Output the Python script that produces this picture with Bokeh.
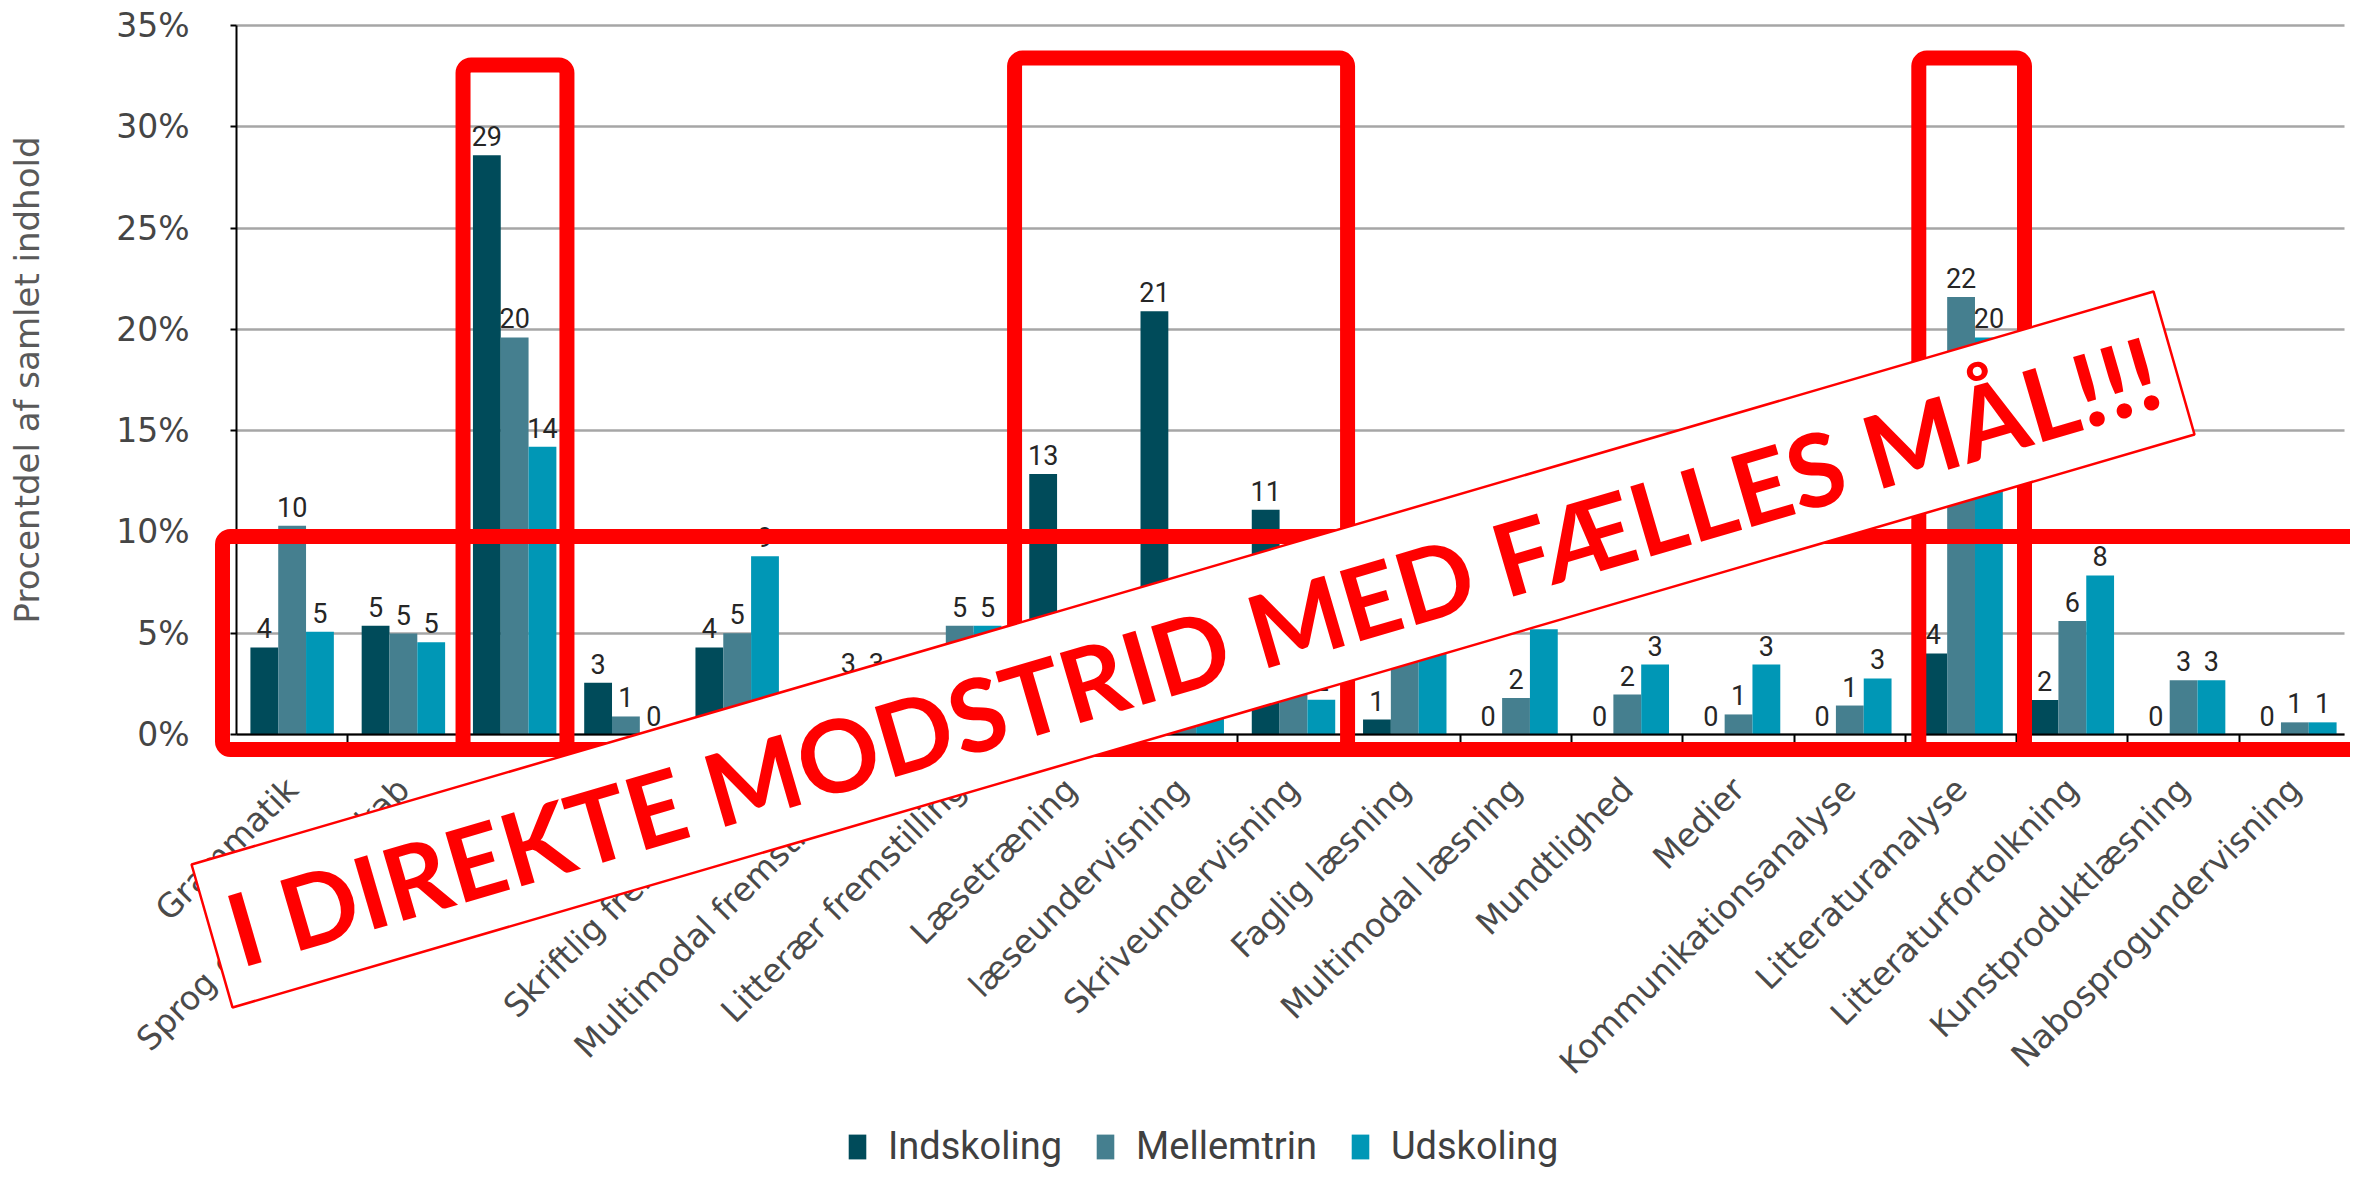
import numpy as np
from bokeh.plotting import figure
from bokeh.models import (ColumnDataSource, Range1d, BoxAnnotation, PolyAnnotation,
                          Label, Legend, LegendItem, FixedTicker, PrintfTickFormatter,
                          CustomJSTickFormatter, LinearAxis, Grid)
from bokeh.core.properties import value
from bokeh.embed import file_html
from bokeh.resources import INLINE

# ---------------- data ----------------
categories = ["Grammatik", "Sprog og ordkendskab", "Stavning", "Håndskrift",
              "Skriftlig fremstilling", "Multimodal fremstilling", "Litterær fremstilling",
              "Læsetræning", "læseundervisning", "Skriveundervisning", "Faglig læsning",
              "Multimodal læsning", "Mundtlighed", "Medier", "Kommunikationsanalyse",
              "Litteraturanalyse", "Litteraturfortolkning", "Kunstproduktlæsning",
              "Nabosprogundervisning"]
indskoling = [4.3, 5.37, 28.6, 2.55, 4.3, 0.9, 1.2, 12.86, 20.9, 11.1, 0.74,
              0.0, 0.0, 0.0, 0.0, 4.0, 1.7, 0.0, 0.0]
mellemtrin = [10.3, 4.98, 19.6, 0.89, 5.0, 2.6, 5.37, 2.2, 3.0, 2.6, 4.2,
              1.8, 1.97, 0.99, 1.43, 21.6, 5.6, 2.68, 0.6]
udskoling = [5.07, 4.55, 14.2, 0.0, 8.8, 2.6, 5.37, 1.3, 1.2, 1.72, 4.6,
             5.2, 3.45, 3.45, 2.77, 19.6, 7.85, 2.68, 0.6]
series = ["Indskoling", "Mellemtrin", "Udskoling"]
colors = ["#004B5A", "#457F8F", "#0097B6"]
y_ticks = [0, 5, 10, 15, 20, 25, 30, 35]
axis_title = "Procentdel af samlet indhold"
banner_text = "I DIREKTE MODSTRID MED FÆLLES MÅL!!!"

# ---------------- layout constants ----------------
W, H = 2350, 1173
FRAME_L, FRAME_B, FRAME_T = 236, 734, 25        # canvas px of data x=0, y=0, y=35
n = len(categories)
kx = (W - FRAME_L) / n                          # px per category
ky = (FRAME_B - FRAME_T) / 35.0                 # px per percent
x_range = Range1d(-FRAME_L / kx, n)
y_range = Range1d(-(H - FRAME_B) / ky, 35 + FRAME_T / ky)

p = figure(x_range=x_range, y_range=y_range, width=W, height=H,
           output_backend="svg", toolbar_location=None,
           x_axis_location=None, y_axis_location=None,
           min_border=0, min_border_left=0, min_border_right=0,
           min_border_top=0, min_border_bottom=0)
p.outline_line_color = None
p.background_fill_color = "white"
p.border_fill_color = "white"
p.xgrid.visible = False
p.ygrid.visible = False

centers = np.arange(n) + 0.5
data = {"c": centers}
for name, vals in zip(series, [indskoling, mellemtrin, udskoling]):
    data[name] = vals
    data[name + "_lab"] = [str(int(np.floor(v + 0.5))) for v in vals]

x_end = n - 0.05

# grid
grid = Grid(dimension=1, ticker=FixedTicker(ticks=y_ticks), grid_line_color="#A6A6A6",
            grid_line_width=2.5)
if "cross_bounds" in Grid.properties():
    grid.cross_bounds = (0, x_end)
    p.add_layout(grid)
else:
    p.segment(x0=[0] * len(y_ticks), x1=[x_end] * len(y_ticks), y0=y_ticks, y1=y_ticks,
              line_color="#A6A6A6", line_width=2.5)

offsets = [-0.25, 0.0, 0.25]
renderers = []
for name, col, off in zip(series, colors, offsets):
    s = ColumnDataSource({"x": centers + off, "top": data[name], "lab": data[name + "_lab"]})
    r = p.vbar(x="x", top="top", width=0.25, source=s, fill_color=col, line_color=None)
    renderers.append(r)
    p.text(x="x", y="top", text="lab", source=s, text_align="center",
           text_baseline="bottom", y_offset=-9, text_font=value("Roboto"),
           text_font_size="27px", text_color="#262626")

# y axis
yax = LinearAxis(fixed_location=0, bounds=(0, 35), ticker=FixedTicker(ticks=y_ticks),
                 formatter=PrintfTickFormatter(format="%d%%"))
yax.minor_tick_line_color = None
yax.major_tick_in = 0
yax.major_tick_out = 6
yax.major_tick_line_width = 2
yax.major_tick_line_color = "black"
yax.axis_line_color = "black"
yax.axis_line_width = 2
yax.major_label_text_font = "DejaVu Sans"
yax.major_label_text_font_size = "33px"
yax.major_label_text_color = "#454545"
yax.major_label_standoff = 41
yax.axis_label = axis_title
yax.axis_label_text_font = "DejaVu Sans"
yax.axis_label_text_font_size = "34px"
yax.axis_label_text_font_style = "normal"
yax.axis_label_text_color = "#595959"
yax.axis_label_standoff = 66
p.add_layout(yax, "left")

# x axis (category names at centres, small ticks at category boundaries)
xax = LinearAxis(fixed_location=0, bounds=(0, x_end),
                 ticker=FixedTicker(ticks=list(centers), minor_ticks=list(range(1, n))),
                 formatter=CustomJSTickFormatter(args=dict(cats=categories),
                                                 code="return cats[Math.floor(tick)] || ''"))
xax.major_label_orientation = np.pi / 4
xax.major_tick_line_color = None
xax.major_tick_in = 0
xax.major_tick_out = 0
xax.minor_tick_in = 0
xax.minor_tick_out = 9
xax.minor_tick_line_width = 2
xax.minor_tick_line_color = "black"
xax.axis_line_color = "black"
xax.axis_line_width = 2
xax.major_label_text_font = "DejaVu Sans"
xax.major_label_text_font_size = "33px"
xax.major_label_text_color = "#4A4A4A"
xax.major_label_standoff = 40
p.add_layout(xax, "below")

# red highlight boxes
RED = "#FF0000"
boxes = [(-0.126, n + 0.6, 9.773, -0.74),
         (2.036, 2.970, 33.05, -0.74),
         (6.993, 9.986, 33.39, -0.74),
         (15.12, 16.07, 33.39, -0.74)]
for l, r, t, b in boxes:
    p.add_layout(BoxAnnotation(left=l, right=r, top=t, bottom=b, fill_alpha=0,
                               line_color=RED, line_width=15, line_alpha=1,
                               border_radius=8))

# banner
p.add_layout(PolyAnnotation(xs=[-0.404, 17.23, 17.598, -0.036],
                            ys=[-6.417, 21.866, 14.81, -13.475],
                            fill_color="white", fill_alpha=1,
                            line_color=RED, line_alpha=1, line_width=2.5))
p.add_layout(Label(x=8.597, y=4.195, text=banner_text, angle=16.28, angle_units="deg",
                   text_align="center", text_baseline="middle",
                   text_font="Lato", text_font_size="101px", text_font_style="bold",
                   text_color=RED))

# legend
legend = Legend(items=[LegendItem(label=s_, renderers=[r]) for s_, r in zip(series, renderers)],
                orientation="horizontal", location=(846, 5),
                glyph_width=22, glyph_height=31, label_standoff=20, spacing=32,
                padding=0, margin=0, border_line_color=None,
                background_fill_alpha=0, label_text_font="Roboto",
                label_text_font_size="38px", label_text_color="#404040")
p.add_layout(legend, "center")

open("out.html", "w").write(file_html(p, INLINE))
